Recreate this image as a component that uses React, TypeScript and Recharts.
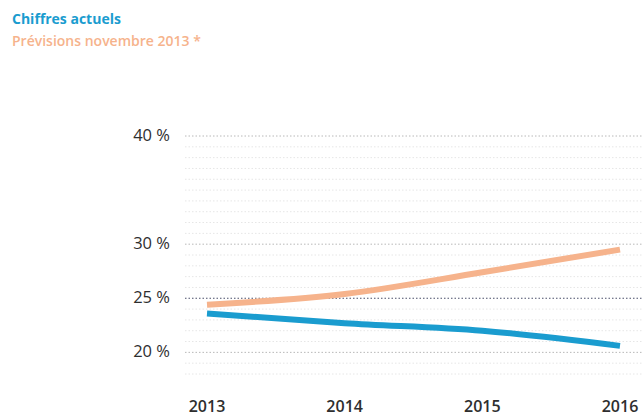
import { LineChart, Line, XAxis, YAxis, ReferenceLine } from "recharts";

const years = ["2013", "2014", "2015", "2016"];
const actual = [23.6, 22.7, 22.0, 20.6];
const forecast = [24.4, 25.4, 27.4, 29.5];
const labeledTicks = [20, 25, 30, 40];
const gridValues = [18, 19, 20, 21, 22, 23, 24, 25, 26, 27, 28, 29, 30, 31, 32, 33, 34, 35, 36, 37, 38, 39, 40];

const data = years.map((year, i) => ({ year, actual: actual[i], forecast: forecast[i] }));

const FONT = "'Open Sans', 'Noto Sans', sans-serif";
const BLUE = "#1a9ccf";
const ORANGE = "#f6b38c";

const YTick = (props: any) => {
  const { x, y, payload } = props;
  if (!labeledTicks.includes(payload.value)) return null;
  return (
    <text x={x - 7} y={y} dy={5} textAnchor="end" fontFamily={FONT} fontSize={16.5} fontWeight={500} fill="#2e2e2e">
      {payload.value} %
    </text>
  );
};

const XTick = (props: any) => {
  const { x, y, payload } = props;
  return (
    <text x={x} y={y} dy={30} textAnchor="middle" fontFamily={FONT} fontSize={16} fontWeight={600} fill="#2e2e2e">
      {payload.value}
    </text>
  );
};

const gridStyle = (v: number) => {
  if (v === 25) return { stroke: "#4a4f6a", strokeWidth: 1.2, strokeDasharray: "1.5 2" };
  if (v % 10 === 0) return { stroke: "#b8b8b8", strokeWidth: 1, strokeDasharray: "1.5 2" };
  return { stroke: "#e6e6e6", strokeWidth: 1, strokeDasharray: "1.5 2" };
};

export default function App() {
  return (
    <div style={{ position: "fixed", left: 0, top: 0, width: 644, height: 416, background: "#fff" }}>
      <div style={{ position: "absolute", left: 12, top: 8, fontFamily: FONT, fontSize: 14, lineHeight: "22px" }}>
        <div style={{ color: BLUE, fontWeight: 700 }}>Chiffres actuels</div>
        <div style={{ color: ORANGE, fontWeight: 600 }}>Prévisions novembre 2013 *</div>
      </div>
      <LineChart width={644} height={416} data={data} margin={{ top: 136, right: 2, bottom: 0, left: 0 }}>
        {gridValues.map((v) => (
          <ReferenceLine key={v} y={v} {...gridStyle(v)} ifOverflow="extendDomain" />
        ))}
        <XAxis
          dataKey="year"
          height={42}
          axisLine={false}
          tickLine={false}
          padding={{ left: 22, right: 22 }}
          tick={<XTick />}
          interval={0}
        />
        <YAxis
          type="number"
          domain={[18, 40]}
          ticks={gridValues}
          width={185}
          axisLine={false}
          tickLine={false}
          tick={<YTick />}
          interval={0}
        />
        <Line type="monotone" dataKey="forecast" stroke={ORANGE} strokeWidth={6} dot={false} isAnimationActive={false} />
        <Line type="monotone" dataKey="actual" stroke={BLUE} strokeWidth={6} dot={false} isAnimationActive={false} />
      </LineChart>
    </div>
  );
}
